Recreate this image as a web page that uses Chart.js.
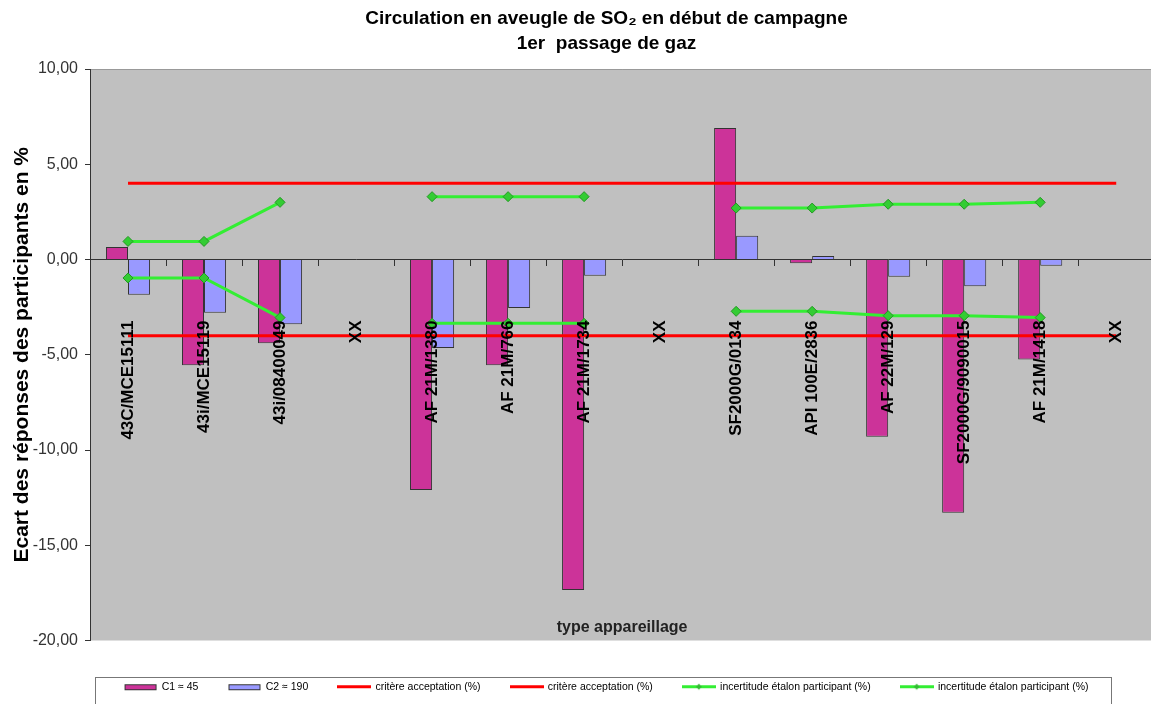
<!DOCTYPE html>
<html>
<head>
<meta charset="utf-8">
<script src="https://cdn.jsdelivr.net/npm/chart.js@4.4.0/dist/chart.umd.min.js"></script>
<style>
  html, body { margin: 0; padding: 0; background: #fff; overflow: hidden; }
  #quadro { width: 1151px; height: 704px; overflow: hidden; }
</style>
</head>
<body>
<div id="quadro"><canvas id="grafico" width="1193" height="720"></canvas></div>
<script>
// categories (type appareillage)
const categorias = ['43C/MCE15111', '43i/MCE15119', '43i/08400049', 'XX', 'AF 21M/1380', 'AF 21M/766', 'AF 21M/1734',
  'XX', 'SF2000G/0134', 'API 100E/2836', 'AF 22M/129', 'SF2000G/9090015', 'AF 21M/1418', 'XX'];

// bars
const c1 = [0.65, -5.55, -4.4, null, -12.1, -5.55, -17.35, null, 6.9, -0.2, -9.3, -13.3, -5.25, null];
const c2 = [-1.85, -2.8, -3.4, null, -4.65, -2.55, -0.85, null, 1.25, 0.18, -0.9, -1.4, -0.33, null];

// critère acceptation
const critereHaut = [4, 4, 4, 4, 4, 4, 4, 4, 4, 4, 4, 4, 4, 4];
const critereBas = [-4, -4, -4, -4, -4, -4, -4, -4, -4, -4, -4, -4, -4, -4];

// incertitude étalon participant
const incertHaut = [0.95, 0.95, 3.0, null, 3.3, 3.3, 3.3, null, 2.7, 2.7, 2.9, 2.9, 3.0, null];
const incertBas = [-0.97, -0.97, -3.05, null, -3.35, -3.35, -3.35, null, -2.72, -2.72, -2.95, -2.95, -3.05, null];

const yTicks = [10, 5, 0, -5, -10, -15, -20];

Chart.defaults.font.family = "Arial, 'Liberation Sans', sans-serif";

// little pictures for the legend
function amostra(tipo, cor) {
  const c = document.createElement('canvas');
  c.width = 34;
  c.height = 9;
  const g = c.getContext('2d');
  if (tipo == 'barra') {
    g.fillStyle = cor;
    g.fillRect(1, 2, 32, 6);
    g.strokeStyle = '#333';
    g.lineWidth = 1;
    g.strokeRect(1.5, 2.5, 31, 5);
  } else {
    g.strokeStyle = cor;
    g.lineWidth = 3;
    g.beginPath();
    g.moveTo(0, 4.5);
    g.lineTo(34, 4.5);
    g.stroke();
    if (tipo == 'losange') {
      g.fillStyle = '#33bb33';
      g.beginPath();
      g.moveTo(17, 1.5);
      g.lineTo(20, 4.5);
      g.lineTo(17, 7.5);
      g.lineTo(14, 4.5);
      g.closePath();
      g.fill();
    }
  }
  return c;
}

const amostras = [
  amostra('barra', '#CC3399'),
  amostra('barra', '#9999FF'),
  amostra('linha', '#FF0000'),
  amostra('linha', '#FF0000'),
  amostra('losange', '#33EE33'),
  amostra('losange', '#33EE33')
];

const fundo = {
  id: 'fundo',
  beforeDraw(chart) {
    const { ctx, chartArea } = chart;
    ctx.save();
    ctx.fillStyle = '#ffffff';
    ctx.fillRect(0, 0, chart.width, chart.height);
    ctx.fillStyle = '#C0C0C0';
    ctx.fillRect(chartArea.left, chartArea.top, chartArea.right - chartArea.left, chartArea.bottom - chartArea.top);
    ctx.strokeStyle = '#999';
    ctx.lineWidth = 1;
    ctx.beginPath();
    ctx.moveTo(chartArea.left, chartArea.top + 0.5);
    ctx.lineTo(chartArea.right, chartArea.top + 0.5);
    ctx.stroke();
    ctx.restore();
  },
  afterDraw(chart) {
    const { ctx, chartArea } = chart;
    ctx.save();
    // x axis title sits inside the plot
    ctx.fillStyle = '#222';
    ctx.font = "bold 16px Arial, 'Liberation Sans', sans-serif";
    ctx.textAlign = 'center';
    ctx.textBaseline = 'middle';
    ctx.fillText('type appareillage', (chartArea.left + chartArea.right) / 2, chartArea.bottom - 13);
    // legend frame
    const caixas = chart.legend.legendHitBoxes;
    if (caixas && caixas.length) {
      const esq = Math.min(...caixas.map(h => h.left)) - 30;
      const dir = Math.max(...caixas.map(h => h.left + h.width)) + 22;
      ctx.strokeStyle = '#777';
      ctx.lineWidth = 1;
      ctx.strokeRect(Math.round(esq) + 0.5, 677.5, Math.round(dir - esq), 40);
    }
    ctx.restore();
  }
};

new Chart(document.getElementById('grafico'), {
  type: 'bar',
  data: {
    labels: categorias,
    datasets: [
      { type: 'bar', label: 'C1 ≈ 45', data: c1, backgroundColor: '#CC3399', borderColor: '#333', borderWidth: 1,
        categoryPercentage: 0.58, barPercentage: 1, order: 2 },
      { type: 'bar', label: 'C2 ≈ 190', data: c2, backgroundColor: '#9999FF', borderColor: '#333', borderWidth: 1,
        categoryPercentage: 0.58, barPercentage: 1, order: 2 },
      { type: 'line', label: 'critère acceptation (%)', data: critereHaut, borderColor: '#FF0000', borderWidth: 3,
        pointRadius: 0, fill: false, tension: 0, order: 1 },
      { type: 'line', label: 'critère acceptation (%)', data: critereBas, borderColor: '#FF0000', borderWidth: 3,
        pointRadius: 0, fill: false, tension: 0, order: 1 },
      { type: 'line', label: 'incertitude étalon participant (%)', data: incertHaut, borderColor: '#33EE33', borderWidth: 3,
        pointStyle: 'rectRot', pointRadius: 5, pointBackgroundColor: '#33CC33', pointBorderColor: '#229922',
        pointBorderWidth: 1, fill: false, tension: 0, spanGaps: false, order: 0 },
      { type: 'line', label: 'incertitude étalon participant (%)', data: incertBas, borderColor: '#33EE33', borderWidth: 3,
        pointStyle: 'rectRot', pointRadius: 5, pointBackgroundColor: '#33CC33', pointBorderColor: '#229922',
        pointBorderWidth: 1, fill: false, tension: 0, spanGaps: false, order: 0 }
    ]
  },
  options: {
    responsive: false,
    animation: false,
    devicePixelRatio: 1,
    events: [],
    layout: { padding: { left: 20, right: 0, top: 0, bottom: 18 } },
    plugins: {
      tooltip: { enabled: false },
      title: {
        display: true,
        text: ['Circulation en aveugle de SO₂ en début de campagne', '1er  passage de gaz'],
        color: '#000',
        font: { size: 19, weight: 'bold', lineHeight: 1.316 },
        padding: { top: 6, bottom: 13 }
      },
      legend: {
        position: 'bottom',
        labels: {
          usePointStyle: true,
          pointStyleWidth: 32,
          padding: 30,
          color: '#000',
          font: { size: 10.5 },
          sort: (a, b) => a.datasetIndex - b.datasetIndex,
          generateLabels(chart) {
            const itens = Chart.defaults.plugins.legend.labels.generateLabels(chart);
            itens.forEach(function (item) {
              item.pointStyle = amostras[item.datasetIndex];
            });
            return itens;
          }
        }
      }
    },
    scales: {
      x: {
        position: { y: 0 },
        offset: true,
        grid: { display: true, drawOnChartArea: false, drawTicks: true, tickLength: 6, color: '#333', offset: true, z: 1 },
        border: { color: '#333', width: 1, z: 1 },
        ticks: { autoSkip: false, maxRotation: 90, minRotation: 90, padding: 55, color: '#000', z: 1,
          font: { size: 17, weight: 'bold' } }
      },
      xPad: {
        type: 'category',
        position: 'bottom',
        grid: { display: false },
        border: { display: false },
        ticks: { display: false },
        afterFit: function (scale) { scale.height = 11; }
      },
      y: {
        min: -20,
        max: 10,
        afterBuildTicks: function (scale) { scale.ticks = yTicks.map(v => ({ value: v })); },
        grid: { drawOnChartArea: false, tickLength: 5, color: '#333' },
        border: { color: '#333', width: 1 },
        ticks: {
          padding: 7,
          color: '#333',
          font: { size: 16 },
          callback: function (value) { return value.toFixed(2).replace('.', ','); }
        },
        title: {
          display: true,
          text: 'Ecart des réponses des participants en %',
          color: '#000',
          font: { size: 21, weight: 'bold' },
          padding: { top: -10, bottom: 0 }
        },
        afterFit: function (scale) { scale.width = 70; }
      }
    }
  },
  plugins: [fundo]
});
</script>
</body>
</html>
